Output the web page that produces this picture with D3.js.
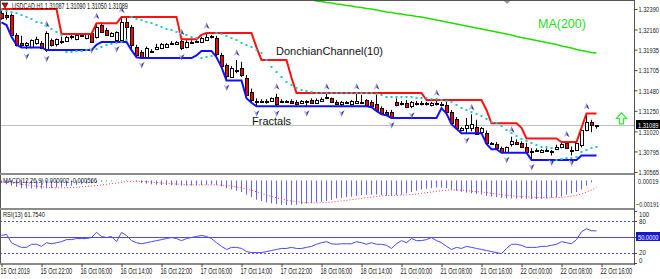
<!DOCTYPE html>
<html>
<head>
<meta charset="utf-8">
<title>USDCAD H1</title>
<script src="https://cdn.jsdelivr.net/npm/d3@7/dist/d3.min.js"></script>
<style>
    body { margin: 0; background: #ffffff; }
    #chart-area { width: 660px; height: 279px; }
    svg text { font-family: "Liberation Sans", Arial, sans-serif; }
</style>
</head>
<body>
<div id="chart-area"></div>
<script>

/* * * * * * * * * * * * * *
*      USDCAD H1 chart     *
* * * * * * * * * * * * * */

const symbolName = "USDCAD,H1";
const lastOHLC = [1.31087, 1.31090, 1.31050, 1.31089];

const timeLabels = ["15 Oct 2019", "15 Oct 22:00", "16 Oct 06:00", "16 Oct 14:00", "16 Oct 22:00",
    "17 Oct 06:00", "17 Oct 14:00", "17 Oct 22:00", "18 Oct 06:00", "18 Oct 14:00", "21 Oct 00:00",
    "21 Oct 08:00", "21 Oct 16:00", "22 Oct 00:00", "22 Oct 08:00", "22 Oct 16:00"];

const priceTicks = [1.32390, 1.32160, 1.31935, 1.31705, 1.31480, 1.31250, 1.31020, 1.30795, 1.30565];

// hourly candles, oldest first
const opens = [
    1.3234, 1.3232, 1.3232, 1.3210, 1.3201, 1.3199, 1.3196, 1.3201, 1.3201, 1.3193,
    1.3204, 1.3200, 1.3203, 1.3203, 1.3209, 1.3205, 1.3210, 1.3206, 1.3212, 1.3208,
    1.3221, 1.3215, 1.3209, 1.3204, 1.3204, 1.3224, 1.3219, 1.3196, 1.3191, 1.3185,
    1.3192, 1.3194, 1.3195, 1.3197, 1.3201, 1.3200, 1.3203, 1.3196, 1.3202, 1.3203,
    1.3202, 1.3204, 1.3208, 1.3206, 1.3187, 1.3176, 1.3163, 1.3171, 1.3173, 1.3162,
    1.3146, 1.3136, 1.3136, 1.3135, 1.3136, 1.3140, 1.3136, 1.3136, 1.3136, 1.3135,
    1.3134, 1.3136, 1.3137, 1.3134, 1.3136, 1.3141, 1.3139, 1.3135, 1.3133, 1.3135,
    1.3133, 1.3134, 1.3135, 1.3137, 1.3135, 1.3133, 1.3128, 1.3124, 1.3124, 1.3135,
    1.3133, 1.3134, 1.3130, 1.3134, 1.3134, 1.3133, 1.3131, 1.3134, 1.3133, 1.3131,
    1.3124, 1.3116, 1.3103, 1.3106, 1.3106, 1.3107, 1.3101, 1.3100, 1.3089, 1.3088,
    1.3083, 1.3079, 1.3088, 1.3090, 1.3089, 1.3085, 1.3079, 1.3081, 1.3079, 1.3081,
    1.3080, 1.3082, 1.3084, 1.3089, 1.3081, 1.3081, 1.3087, 1.3103, 1.3112, 1.31087];
const highs = [
    1.3238, 1.3236, 1.3234, 1.3212, 1.3209, 1.3202, 1.3205, 1.3208, 1.3203, 1.3214,
    1.3206, 1.3206, 1.3208, 1.3209, 1.3210, 1.3211, 1.3212, 1.3212, 1.3213, 1.3223,
    1.3224, 1.3218, 1.3213, 1.3214, 1.3230, 1.3230, 1.3221, 1.3199, 1.3193, 1.3197,
    1.3194, 1.3200, 1.3201, 1.3201, 1.3203, 1.3203, 1.3205, 1.3204, 1.3204, 1.3204,
    1.3208, 1.3212, 1.3210, 1.3209, 1.3190, 1.3178, 1.3175, 1.3182, 1.3180, 1.3165,
    1.3150, 1.3139, 1.3138, 1.3138, 1.3140, 1.3144, 1.3138, 1.3137, 1.3138, 1.3137,
    1.3137, 1.3137, 1.3139, 1.3139, 1.3140, 1.3144, 1.3140, 1.3137, 1.3136, 1.3136,
    1.3137, 1.3144, 1.3143, 1.3138, 1.3137, 1.3144, 1.3130, 1.3126, 1.3126, 1.3139,
    1.3136, 1.3137, 1.3136, 1.3136, 1.3136, 1.3135, 1.3135, 1.3137, 1.3135, 1.3136,
    1.3126, 1.3118, 1.3107, 1.3117, 1.3121, 1.3115, 1.3107, 1.3103, 1.3090, 1.3090,
    1.3085, 1.3085, 1.3096, 1.3093, 1.3091, 1.3089, 1.3083, 1.3083, 1.3082, 1.3083,
    1.3081, 1.3087, 1.3089, 1.3091, 1.3085, 1.3089, 1.3106, 1.3122, 1.3115, 1.31090];
const lows = [
    1.3227, 1.3227, 1.3208, 1.3197, 1.3196, 1.3194, 1.3195, 1.3199, 1.3194, 1.3191,
    1.3197, 1.3197, 1.3200, 1.3202, 1.3205, 1.3204, 1.3208, 1.3205, 1.3201, 1.3206,
    1.3212, 1.3209, 1.3208, 1.3202, 1.3203, 1.3204, 1.3193, 1.3185, 1.3184, 1.3184,
    1.3190, 1.3193, 1.3194, 1.3196, 1.3200, 1.3199, 1.3193, 1.3195, 1.3201, 1.3202,
    1.3201, 1.3203, 1.3206, 1.3185, 1.3173, 1.3159, 1.3162, 1.3167, 1.3163, 1.3139,
    1.3134, 1.3130, 1.3134, 1.3133, 1.3135, 1.3130, 1.3134, 1.3134, 1.3133, 1.3131,
    1.3133, 1.3130, 1.3133, 1.3133, 1.3135, 1.3138, 1.3134, 1.3132, 1.3130, 1.3133,
    1.3131, 1.3133, 1.3133, 1.3130, 1.3129, 1.3125, 1.3121, 1.3120, 1.3117, 1.3130,
    1.3131, 1.3128, 1.3128, 1.3131, 1.3131, 1.3131, 1.3130, 1.3131, 1.3130, 1.3122,
    1.3110, 1.3105, 1.3102, 1.3100, 1.3102, 1.3098, 1.3099, 1.3088, 1.3087, 1.3082,
    1.3078, 1.3078, 1.3085, 1.3087, 1.3084, 1.3078, 1.3070, 1.3079, 1.3078, 1.3079,
    1.3075, 1.3081, 1.3083, 1.3083, 1.3075, 1.3080, 1.3084, 1.3102, 1.3101, 1.31050];
const closes = [
    1.3229, 1.3230, 1.3210, 1.3199, 1.3199, 1.3201, 1.3204, 1.3205, 1.3195, 1.3212,
    1.3199, 1.3205, 1.3203, 1.3208, 1.3209, 1.3210, 1.3210, 1.3211, 1.3202, 1.3219,
    1.3213, 1.3210, 1.3212, 1.3213, 1.3224, 1.3219, 1.3199, 1.3187, 1.3185, 1.3195,
    1.3192, 1.3197, 1.3200, 1.3200, 1.3201, 1.3202, 1.3195, 1.3202, 1.3202, 1.3203,
    1.3206, 1.3208, 1.3209, 1.3189, 1.3175, 1.3164, 1.3173, 1.3171, 1.3165, 1.3143,
    1.3137, 1.3136, 1.3136, 1.3136, 1.3139, 1.3133, 1.3136, 1.3135, 1.3134, 1.3133,
    1.3136, 1.3135, 1.3134, 1.3137, 1.3138, 1.3139, 1.3135, 1.3133, 1.3135, 1.3134,
    1.3136, 1.3136, 1.3135, 1.3131, 1.3130, 1.3126, 1.3122, 1.3121, 1.3118, 1.3131,
    1.3134, 1.3129, 1.3135, 1.3133, 1.3133, 1.3134, 1.3134, 1.3133, 1.3131, 1.3124,
    1.3111, 1.3106, 1.3106, 1.3109, 1.3110, 1.3099, 1.3106, 1.3089, 1.3088, 1.3083,
    1.3079, 1.3084, 1.3091, 1.3088, 1.3085, 1.3079, 1.3080, 1.3081, 1.3081, 1.3080,
    1.3079, 1.3085, 1.3088, 1.3083, 1.3080, 1.3089, 1.3103, 1.3112, 1.3109, 1.31089];

// DonchianChannel(10): [first bar, level] steps
const donchianUpperSteps = [[0, 1.3239], [12, 1.3211], [19, 1.3223], [24, 1.3230], [36, 1.3205],
    [40, 1.3210], [41, 1.3212], [51, 1.3196], [52, 1.3182], [58, 1.3162], [59, 1.3145], [85, 1.3137],
    [97, 1.3126], [98, 1.3111], [104, 1.3106], [105, 1.3094], [112, 1.3090], [116, 1.3106], [117, 1.3122]];
const donchianLowerSteps = [[0, 1.3224], [1, 1.3221], [2, 1.3208], [3, 1.3199], [4, 1.3196], [9, 1.3193],
    [19, 1.3199], [20, 1.3202], [26, 1.3193], [27, 1.3185], [28, 1.3184], [39, 1.3187], [40, 1.3192],
    [43, 1.3185], [44, 1.3174], [45, 1.3159], [49, 1.3139], [50, 1.3134], [51, 1.3130], [74, 1.3129],
    [75, 1.3125], [76, 1.3121], [77, 1.3120], [78, 1.3117], [88, 1.3128], [89, 1.3122], [90, 1.3110],
    [91, 1.3105], [92, 1.3100], [97, 1.3088], [98, 1.3082], [100, 1.3078], [106, 1.3070], [116, 1.3075]];

// cyan dotted trail
const sarValues = [
    1.3238, 1.3237, 1.3236, 1.3234, 1.3232, 1.3230, 1.3228, 1.3225, 1.3223, 1.3220,
    1.3217, 1.3213, 1.3210, 1.3191, 1.3191, 1.3192, 1.3192, 1.3193, 1.3193, 1.3194,
    1.3196, 1.3199, 1.3200, 1.3201, 1.3202, 1.3204, 1.3230, 1.3228, 1.3227, 1.3224,
    1.3223, 1.3221, 1.3219, 1.3217, 1.3215, 1.3213, 1.3212, 1.3210, 1.3208, 1.3206,
    1.3184, 1.3185, 1.3186, 1.3212, 1.3211, 1.3209, 1.3206, 1.3204, 1.3201, 1.3199,
    1.3196, 1.3193, 1.3190, 1.3182, 1.3174, 1.3168, 1.3163, 1.3157, 1.3154, 1.3150,
    1.3148, 1.3147, 1.3146, 1.3145, 1.3145, 1.3145, 1.3145, 1.3145, 1.3145, 1.3145,
    1.3145, 1.3145, 1.3145, 1.3145, 1.3145, 1.3144, 1.3143, 1.3141, 1.3141, 1.3141,
    1.3141, 1.3140, 1.3140, 1.3139, 1.3139, 1.3139, 1.3138, 1.3138, 1.3137, 1.3136,
    1.3135, 1.3131, 1.3128, 1.3126, 1.3124, 1.3121, 1.3119, 1.3116, 1.3113, 1.3111,
    1.3108, 1.3103, 1.3100, 1.3097, 1.3093, 1.3091, 1.3089, 1.3087, 1.3085, 1.3084,
    1.3083, 1.3070, 1.3071, 1.3072, 1.3072, 1.3073, 1.3079, 1.3081, 1.3083, 1.3085];

// bars carrying a fractal arrow
const fractalUpBars = [9, 19, 24, 36, 41, 47, 55, 65, 71, 75, 87, 94, 102, 113, 117];
const fractalDownBars = [5, 9, 18, 23, 28, 36, 45, 51, 55, 61, 68, 78, 82, 93, 101, 106, 110, 114];

// MA(200), first bar 58
const ma200FirstBar = 58;
const ma200Values = [
    1.32525, 1.32513, 1.32508, 1.32497, 1.32491, 1.32480, 1.32474, 1.32463, 1.32457, 1.32446,
    1.32441, 1.32429, 1.32424, 1.32413, 1.32407, 1.32396, 1.32390, 1.32379, 1.32368, 1.32357,
    1.32351, 1.32340, 1.32334, 1.32323, 1.32317, 1.32306, 1.32301, 1.32289, 1.32278, 1.32267,
    1.32256, 1.32245, 1.32233, 1.32222, 1.32211, 1.32200, 1.32189, 1.32177, 1.32166, 1.32155,
    1.32144, 1.32133, 1.32121, 1.32110, 1.32099, 1.32082, 1.32071, 1.32060, 1.32049, 1.32037,
    1.32026, 1.32015, 1.32004, 1.31993, 1.31976, 1.31965, 1.31953, 1.31937, 1.31925, 1.31914,
    1.31903, 1.31897];

// MACD(12,26,9)
const macdMain = [
    -0.0002, -0.0003, -0.0004, -0.0005, -0.0006, -0.00062, -0.00063, -0.00063, -0.00063, -0.0006,
    -0.00058, -0.00055, -0.0005, -0.00045, -0.0004, -0.00035, -0.0003, -0.00025, -0.00022, -0.00015,
    -0.0001, -0.00008, -0.00005, -0.00002, 0.00002, 0.00004, 0.00002, -0.0001, -0.0002, -0.00025,
    -0.0003, -0.00033, -0.00035, -0.00036, -0.00037, -0.00038, -0.0004, -0.0004, -0.0004, -0.00038,
    -0.00036, -0.00033, -0.0003, -0.00035, -0.00045, -0.0006, -0.0007, -0.0008, -0.0009, -0.0011,
    -0.0013, -0.0015, -0.0016, -0.0017, -0.00178, -0.00185, -0.0019, -0.00191, -0.0019, -0.00188,
    -0.00185, -0.0018, -0.00175, -0.0017, -0.00165, -0.0016, -0.0015, -0.0014, -0.00135, -0.0013,
    -0.00125, -0.0012, -0.00115, -0.0011, -0.0011, -0.0011, -0.00115, -0.0012, -0.0012, -0.00115,
    -0.0011, -0.001, -0.0009, -0.0008, -0.0007, -0.00065, -0.0006, -0.00055, -0.00055, -0.0006,
    -0.0007, -0.0008, -0.00088, -0.00095, -0.001, -0.00105, -0.0011, -0.0012, -0.00125, -0.0013,
    -0.00135, -0.0014, -0.0014, -0.0014, -0.0014, -0.00142, -0.00145, -0.00145, -0.00143, -0.0014,
    -0.00135, -0.0013, -0.00125, -0.0011, -0.001, -0.0009, -0.0007, -0.0004, -0.00015, 0.000002];
const macdSignal = [
    -0.0001, -0.00015, -0.0002, -0.00025, -0.0003, -0.00035, -0.0004, -0.00045, -0.0005, -0.00053,
    -0.00056, -0.00058, -0.00058, -0.00057, -0.00055, -0.00053, -0.0005, -0.00047, -0.00043, -0.0004,
    -0.00035, -0.0003, -0.00025, -0.0002, -0.00015, -0.0001, -0.00007, -0.00006, -0.00007, -0.0001,
    -0.00013, -0.00016, -0.0002, -0.00023, -0.00026, -0.00028, -0.0003, -0.00032, -0.00034, -0.00035,
    -0.00035, -0.00035, -0.00035, -0.00035, -0.00037, -0.0004, -0.00045, -0.0005, -0.00058, -0.00066,
    -0.00076, -0.00088, -0.001, -0.00112, -0.00124, -0.00135, -0.00145, -0.00153, -0.0016, -0.00165,
    -0.0017, -0.00172, -0.00174, -0.00174, -0.00173, -0.00171, -0.00168, -0.00164, -0.0016, -0.00155,
    -0.0015, -0.00145, -0.0014, -0.00135, -0.0013, -0.00125, -0.0012, -0.00118, -0.00117, -0.00116,
    -0.00114, -0.00112, -0.0011, -0.00105, -0.001, -0.00095, -0.0009, -0.00085, -0.0008, -0.00076,
    -0.00074, -0.00074, -0.00076, -0.00079, -0.00083, -0.00087, -0.0009, -0.00095, -0.001, -0.00105,
    -0.0011, -0.00115, -0.00118, -0.00122, -0.00125, -0.00128, -0.0013, -0.00132, -0.00134, -0.00135,
    -0.00135, -0.00134, -0.00132, -0.00128, -0.00122, -0.00115, -0.00105, -0.0009, -0.00075, -0.000566];
const macdAxisLabels = [0.00019, -0.00191];

// RSI(13)
const rsiValues = [
    53, 55, 39, 34, 30, 30, 36, 36, 32, 39,
    37, 39, 41, 45, 45, 47, 47, 47, 49, 59,
    51, 49, 51, 41, 59, 53, 43, 39, 37, 39,
    41, 43, 45, 47, 49, 47, 43, 47, 49, 51,
    53, 51, 47, 39, 32, 26, 30, 30, 28, 22,
    20, 20, 20, 22, 24, 26, 28, 28, 30, 28,
    28, 30, 32, 36, 39, 41, 37, 36, 37, 37,
    37, 41, 39, 36, 39, 36, 36, 34, 28, 37,
    43, 39, 47, 43, 43, 45, 49, 43, 39, 32,
    26, 30, 28, 32, 30, 28, 26, 24, 22, 20,
    18, 28, 36, 36, 34, 30, 30, 30, 32, 32,
    34, 36, 41, 39, 37, 45, 60, 66, 62, 61.754];
const rsiLevels = [80, 50, 20];
const rsiAxisLabels = [100, 80, 20, 0];


class TraderChart {

    constructor(parentElement) {
        this.parentElement = parentElement;
        this.displayData = [];
        this.initVis();
    }

    initVis() {
        let vis = this;

        vis.width = 660;
        vis.height = 279;
        vis.plotRight = 634;
        vis.panels = {main: [1, 173], macd: [175, 208], rsi: [210, 263]};

        vis.svg = d3.select("#" + vis.parentElement).append("svg")
            .attr("width", vis.width)
            .attr("height", vis.height);

        // scales, bar i sits on pixel 5i+1
        vis.x = d3.scaleLinear().domain([0, 120]).range([1.5, 601.5]);
        vis.y = d3.scaleLinear().domain([1.30565, 1.32390]).range([172, 9]);
        vis.yMacd = d3.scaleLinear().domain([-0.00191, 0.00019]).range([205, 178]);
        vis.yRsi = d3.scaleLinear().domain([0, 100]).range([263, 211]);

        // clip each panel
        let defs = vis.svg.append("defs");
        Object.entries(vis.panels).forEach(([key, [top, bottom]]) => {
            defs.append("clipPath").attr("id", "clip-" + key)
                .append("rect")
                .attr("x", 1).attr("y", top)
                .attr("width", vis.plotRight - 1).attr("height", bottom - top);
        });

        vis.frameG = vis.svg.append("g");
        vis.mainG = vis.svg.append("g").attr("clip-path", "url(#clip-main)");
        vis.macdG = vis.svg.append("g").attr("clip-path", "url(#clip-macd)");
        vis.rsiG = vis.svg.append("g").attr("clip-path", "url(#clip-rsi)");
        vis.axisG = vis.svg.append("g");

        vis.wrangleData();
    }

    wrangleData() {
        let vis = this;

        let expandSteps = (steps, n) => {
            let out = [];
            for (let i = 0; i < n; i++) {
                let level = steps[0][1];
                steps.forEach(s => { if (s[0] <= i) level = s[1]; });
                out.push(level);
            }
            return out;
        };

        let upper = expandSteps(donchianUpperSteps, opens.length);
        let lower = expandSteps(donchianLowerSteps, opens.length);

        vis.displayData = opens.map((o, i) => ({
            i: i,
            open: o,
            high: highs[i],
            low: lows[i],
            close: closes[i],
            upper: upper[i],
            lower: lower[i],
            sar: sarValues[i],
            macd: macdMain[i],
            signal: macdSignal[i],
            rsi: rsiValues[i]
        }));

        vis.maData = ma200Values.map((v, k) => ({i: ma200FirstBar + k, value: v}));

        vis.updateVis();
    }

    // squeeze a text horizontally so it is `width` pixels wide, anchored at (x, y)
    fitText(sel, x, y, width) {
        sel.each(function (t, k) {
            let node = d3.select(this);
            node.attr("x", 0).attr("y", 0).attr("dy", null).attr("textLength", null);
            let natural = this.getComputedTextLength();
            let w = typeof width === "function" ? width(t, k) : width;
            let xx = typeof x === "function" ? x(t, k) : x;
            let yy = typeof y === "function" ? y(t, k) : y;
            node.attr("transform", `translate(${xx},${yy}) scale(${natural > 0 ? w / natural : 1},1)`);
        });
    }

    updateVis() {
        let vis = this;
        let d = vis.displayData;
        let axisFont = 8;

        // ---------- frame ----------
        vis.frameG.append("rect")
            .attr("x", 0).attr("y", 0).attr("width", vis.plotRight).attr("height", 1)
            .attr("fill", "#555");
        vis.frameG.append("rect")
            .attr("x", 0).attr("y", 0).attr("width", 1).attr("height", 264)
            .attr("fill", "#555");
        [173, 208, 263].forEach(yy => {
            vis.frameG.append("rect")
                .attr("x", 0).attr("y", yy).attr("width", vis.plotRight + 1).attr("height", 2)
                .attr("fill", "#8c8c8c");
        });
        vis.frameG.append("rect")
            .attr("x", vis.plotRight).attr("y", 0).attr("width", 1).attr("height", 265)
            .attr("fill", "#555");
        // shift marker on top border
        vis.frameG.append("path")
            .attr("d", "M504,1 L510,1 L507,4 Z")
            .attr("fill", "#999");

        // ---------- main panel ----------
        // last price line
        vis.mainG.append("line")
            .attr("x1", 0).attr("x2", vis.plotRight)
            .attr("y1", Math.round(vis.y(lastOHLC[3])) + 0.5)
            .attr("y2", Math.round(vis.y(lastOHLC[3])) + 0.5)
            .attr("stroke", "#c0c0c0");

        // candles
        let candles = vis.mainG.selectAll(".candle").data(d).enter().append("g")
            .attr("class", "candle");

        candles.append("line")
            .attr("x1", c => vis.x(c.i)).attr("x2", c => vis.x(c.i))
            .attr("y1", c => vis.y(c.high)).attr("y2", c => vis.y(c.low))
            .attr("stroke", "#000").attr("stroke-width", 1);

        candles.append("rect")
            .attr("x", c => vis.x(c.i) - 1)
            .attr("width", 3)
            .attr("y", c => Math.round(vis.y(Math.max(c.open, c.close))) + 0.5)
            .attr("height", c => Math.max(1, Math.round(vis.y(Math.min(c.open, c.close))) - Math.round(vis.y(Math.max(c.open, c.close)))))
            .attr("fill", c => c.close >= c.open ? "#ffffff" : "#ff0000")
            .attr("stroke", "#000").attr("stroke-width", 1);

        // MA(200)
        vis.mainG.append("path")
            .datum(vis.maData)
            .attr("d", d3.line().x(p => vis.x(p.i)).y(p => vis.y(p.value)))
            .attr("fill", "none").attr("stroke", "#22dd00").attr("stroke-width", 1.5);

        // Donchian channel
        vis.mainG.append("path")
            .datum(d)
            .attr("d", d3.line().x(c => vis.x(c.i)).y(c => vis.y(c.upper)))
            .attr("fill", "none").attr("stroke", "#ff1010").attr("stroke-width", 2);
        vis.mainG.append("path")
            .datum(d)
            .attr("d", d3.line().x(c => vis.x(c.i)).y(c => vis.y(c.lower)))
            .attr("fill", "none").attr("stroke", "#1010ff").attr("stroke-width", 2);

        // dotted trail
        vis.mainG.selectAll(".sar").data(d).enter().append("rect")
            .attr("class", "sar")
            .attr("x", c => vis.x(c.i) - 1)
            .attr("y", c => Math.round(vis.y(c.sar)) - 1)
            .attr("width", 2).attr("height", 2)
            .attr("fill", "#1fc8c8");

        // fractals
        let upShape = "M0,-3.5 L-3,3 L0,1 Z", upShade = "M0,-3.5 L3,3 L0,1 Z";
        let downShape = "M0,3.5 L-3,-3 L0,-1 Z", downShade = "M0,3.5 L3,-3 L0,-1 Z";
        fractalUpBars.forEach(b => {
            let g = vis.mainG.append("g")
                .attr("transform", `translate(${vis.x(b)}, ${vis.y(highs[b]) - 7})`);
            g.append("path").attr("d", upShape).attr("fill", "#b4b4e6");
            g.append("path").attr("d", upShade).attr("fill", "#3a3a96");
        });
        fractalDownBars.forEach(b => {
            let g = vis.mainG.append("g")
                .attr("transform", `translate(${vis.x(b)}, ${vis.y(lows[b]) + 7})`);
            g.append("path").attr("d", downShape).attr("fill", "#b4b4e6");
            g.append("path").attr("d", downShade).attr("fill", "#3a3a96");
        });

        // annotations
        vis.mainG.append("text")
            .attr("x", 276).attr("y", 55)
            .attr("font-size", 11).attr("fill", "#111")
            .text("DonchianChannel(10)");
        vis.mainG.append("text")
            .attr("x", 252).attr("y", 125)
            .attr("font-size", 11).attr("fill", "#111")
            .text("Fractals");
        vis.mainG.append("text")
            .attr("x", 538).attr("y", 28)
            .attr("font-size", 12.5).attr("fill", "#22dd22")
            .text("MA(200)");

        // hollow up arrow
        let ax = vis.x(124), ay = vis.y(1.31250) + 2;
        vis.mainG.append("path")
            .attr("d", `M${ax},${ay} L${ax + 5},${ay + 5.5} L${ax + 2},${ay + 5.5} L${ax + 2},${ay + 11} ` +
                `L${ax - 2},${ay + 11} L${ax - 2},${ay + 5.5} L${ax - 5},${ay + 5.5} Z`)
            .attr("fill", "#fff").attr("stroke", "#33ee33").attr("stroke-width", 1.3);

        // header
        vis.mainG.append("path")
            .attr("d", "M2,3 L8,3 L5,8 Z")
            .attr("fill", "#d00").attr("stroke", "#000").attr("stroke-width", 0.6);
        vis.mainG.append("text")
            .attr("font-size", 8.5).attr("fill", "#111")
            .text(symbolName + "  " + lastOHLC.map(v => v.toFixed(5)).join(" "))
            .call(s => vis.fitText(s, 12, 9, 116));

        // ---------- MACD panel ----------
        let zeroY = vis.yMacd(0);
        vis.macdG.selectAll(".hist").data(d).enter().append("line")
            .attr("class", "hist")
            .attr("x1", c => vis.x(c.i)).attr("x2", c => vis.x(c.i))
            .attr("y1", zeroY).attr("y2", c => vis.yMacd(c.macd))
            .attr("stroke", "#6262ff").attr("stroke-width", 1);
        vis.macdG.append("path")
            .datum(d)
            .attr("d", d3.line().x(c => vis.x(c.i)).y(c => vis.yMacd(c.signal)))
            .attr("fill", "none").attr("stroke", "#ff3b3b").attr("stroke-width", 1)
            .attr("stroke-dasharray", "1,2");
        vis.macdG.append("text")
            .attr("font-size", 8).attr("fill", "#111")
            .text("MACD(12,26,9) " + macdMain[macdMain.length - 1].toFixed(6) + " " + macdSignal[macdSignal.length - 1].toFixed(6))
            .call(s => vis.fitText(s, 3, 183, 94));

        // ---------- RSI panel ----------
        rsiLevels.forEach(lv => {
            vis.rsiG.append("line")
                .attr("x1", 0).attr("x2", vis.plotRight)
                .attr("y1", Math.round(vis.yRsi(lv)) + 0.5).attr("y2", Math.round(vis.yRsi(lv)) + 0.5)
                .attr("stroke", "#4a4aee").attr("stroke-width", 1)
                .attr("stroke-dasharray", lv === 50 ? null : "2,2");
        });
        vis.rsiG.append("path")
            .datum(d)
            .attr("d", d3.line().x(c => vis.x(c.i)).y(c => vis.yRsi(c.rsi)))
            .attr("fill", "none").attr("stroke", "#4545ff").attr("stroke-width", 1);
        vis.rsiG.append("text")
            .attr("font-size", 8).attr("fill", "#111")
            .text("RSI(13) " + rsiValues[rsiValues.length - 1].toFixed(4))
            .call(s => vis.fitText(s, 3, 217, 42));

        // ---------- axes ----------
        let priceAxis = d3.axisRight(vis.y)
            .tickValues(priceTicks)
            .tickSize(3)
            .tickFormat(d3.format(".5f"));
        let pa = vis.axisG.append("g")
            .attr("transform", `translate(${vis.plotRight + 0.5}, 0)`)
            .call(priceAxis);
        pa.select(".domain").remove();
        pa.selectAll("line").attr("stroke", "#444");
        pa.selectAll("text")
            .attr("font-size", axisFont).attr("font-family", null)
            .attr("fill", "#222")
            .call(s => vis.fitText(s, 4, 2.8, 20.5));

        // current price badge
        let ly = Math.round(vis.y(lastOHLC[3]));
        vis.axisG.append("rect")
            .attr("x", vis.plotRight + 2).attr("y", ly - 5).attr("width", 26).attr("height", 9)
            .attr("fill", "#000");
        vis.axisG.append("text")
            .attr("font-size", 7.5).attr("fill", "#fff")
            .text(lastOHLC[3].toFixed(5))
            .call(s => vis.fitText(s, vis.plotRight + 4, ly + 2.5, 20.5));

        // MACD labels
        vis.axisG.selectAll(".macd-label").data(macdAxisLabels).enter().append("text")
            .attr("class", "macd-label")
            .attr("font-size", axisFont).attr("fill", "#222")
            .text(v => d3.format(".5f")(v))
            .call(s => vis.fitText(s,
                v => v < 0 ? vis.plotRight + 2 : vis.plotRight + 4,
                v => v < 0 ? 207 : 183.5,
                v => v < 0 ? 23 : 20.5));

        // RSI labels
        vis.axisG.selectAll(".rsi-label").data(rsiAxisLabels).enter().append("text")
            .attr("class", "rsi-label")
            .attr("font-size", 7.5).attr("fill", "#222")
            .text(v => v)
            .call(s => vis.fitText(s,
                vis.plotRight + 5,
                v => v === 100 ? 217 : v === 0 ? 262.5 : vis.yRsi(v) + 2.7,
                v => String(v).length * 3.4));
        vis.axisG.selectAll(".rsi-tick").data(rsiLevels.concat([100, 0])).enter().append("line")
            .attr("x1", vis.plotRight).attr("x2", vis.plotRight + 3)
            .attr("y1", v => Math.round(vis.yRsi(v)) + 0.5).attr("y2", v => Math.round(vis.yRsi(v)) + 0.5)
            .attr("stroke", "#444");
        let y50 = Math.round(vis.yRsi(50));
        vis.axisG.append("rect")
            .attr("x", vis.plotRight + 2).attr("y", y50 - 5).attr("width", 26).attr("height", 9)
            .attr("fill", "#1818c8");
        vis.axisG.append("text")
            .attr("font-size", 8).attr("fill", "#fff")
            .text(d3.format(".4f")(50))
            .call(s => vis.fitText(s, vis.plotRight + 4, y50 + 2.8, 20.5));

        // time axis
        let timeAxis = d3.axisBottom(vis.x)
            .tickValues(d3.range(0, 121, 8))
            .tickSize(3)
            .tickFormat((t, k) => timeLabels[k]);
        let ta = vis.axisG.append("g")
            .attr("transform", "translate(0, 264)")
            .call(timeAxis);
        ta.select(".domain").remove();
        ta.selectAll("line").attr("stroke", "#444");
        ta.selectAll("text")
            .attr("text-anchor", "start")
            .attr("font-size", 8.5).attr("font-family", null)
            .attr("fill", "#222")
            .call(s => vis.fitText(s, -1.5, 9.5, (t, k) => timeLabels[k].length * 2.65));
    }
}

let chart = new TraderChart("chart-area");

</script>
</body>
</html>
